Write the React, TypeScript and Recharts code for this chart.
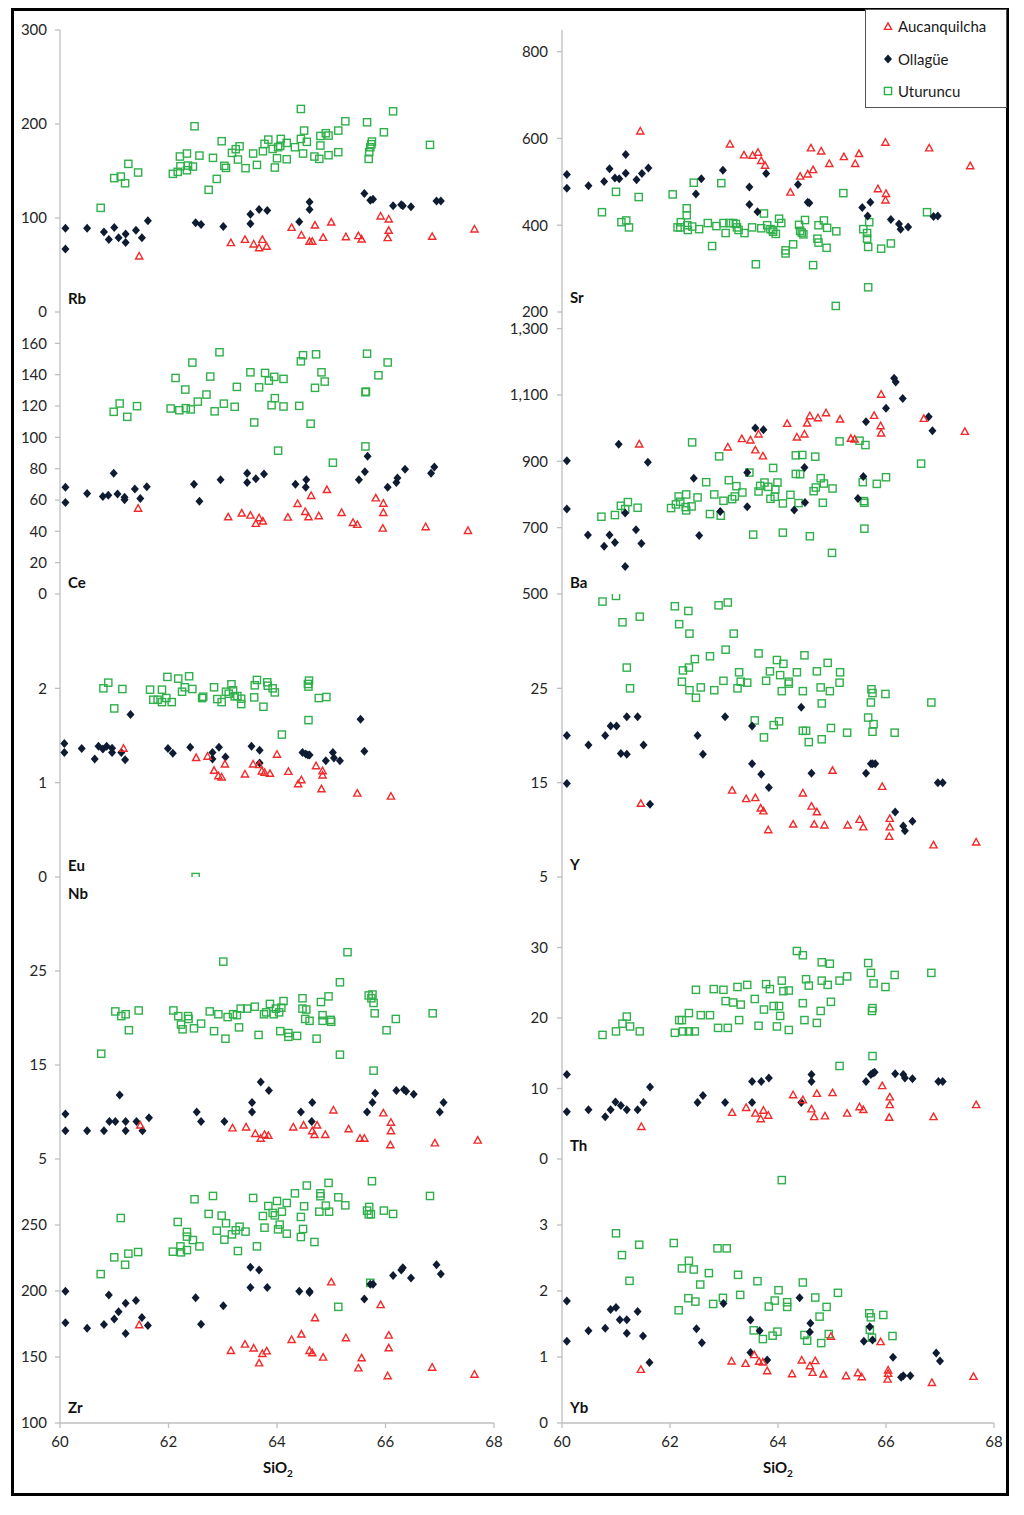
import React from 'react'
import { ScatterChart, Scatter, XAxis, YAxis } from 'recharts'

type P = [number, number]

const sio2Ticks = [60, 62, 64, 66, 68]

// Rb
const rbAuc: P[] = [[61.46,59.5],[63.15,73.7],[63.41,77.2],[63.57,72.2],[63.67,68.3],[63.73,77.2],[63.81,69.8],[64.27,89.9],[64.45,81.8],[64.6,75.1],[64.65,75.1],[64.7,92.4],[64.85,79.3],[65,95.6],[65.27,80],[65.5,81.1],[65.56,77.5],[65.91,102],[66.06,98.8],[66.06,86.8],[66.04,79],[66.86,80.4],[67.64,88.2]]
const rbOll: P[] = [[60.1,89],[60.1,67],[60.5,89],[60.81,85],[60.9,77],[61,90],[61.08,79],[61.21,83],[61.21,74],[61.4,87],[61.51,79],[61.62,97],[62.5,95],[62.6,93],[63.01,91],[63.51,104],[63.51,94],[63.67,109],[63.82,108],[64.41,96],[64.6,117],[64.6,109],[65.61,126],[65.72,119],[65.77,120],[66.14,113],[66.29,114],[66.32,113],[66.47,112],[66.94,118],[67.02,118]]
const rbUtu: P[] = [[60.75,110.8],[61,142.4],[61.12,144.1],[61.2,137],[61.26,157.6],[61.44,148.4],[62.08,147],[62.17,149.1],[62.22,155.1],[62.21,165.4],[62.34,168.6],[62.34,150.8],[62.36,155.8],[62.45,154.7],[62.48,197.6],[62.57,166.4],[62.74,130],[62.82,164],[62.89,141.6],[62.98,181.7],[63.03,155.5],[63.06,153.3],[63.17,169.3],[63.24,173.2],[63.28,162.2],[63.31,176.3],[63.42,153],[63.56,168.6],[63.63,156.5],[63.74,171],[63.77,178.8],[63.84,183.4],[63.92,173.5],[63.96,153.7],[64,163.6],[64.02,175.3],[64.07,184.1],[64.06,176.7],[64.18,179.9],[64.18,162.5],[64.33,175.3],[64.44,216],[64.44,184.1],[64.48,168.6],[64.5,193],[64.55,181],[64.69,165.4],[64.78,162.9],[64.8,187.3],[64.8,177.1],[64.9,190.2],[64.95,187.7],[64.95,166.8],[65.13,193],[65.13,170],[65.26,202.9],[65.66,201.8],[65.69,162.9],[65.7,170],[65.72,175.3],[65.74,178.5],[65.75,181.3],[65.97,191.2],[66.14,213.5],[66.82,177.8]]

// Sr
const srAuc: P[] = [[61.45,617],[63.11,587],[63.37,562],[63.53,561],[63.63,568],[63.69,549],[63.76,538],[64.23,476],[64.41,513],[64.55,518],[64.65,528],[64.61,578],[64.8,571],[64.95,542],[65.22,558],[65.43,542],[65.5,565],[65.85,484],[65.99,591],[66,473],[65.99,458],[66.8,578],[67.56,537]]
const srOll: P[] = [[60.09,517],[60.09,485],[60.49,491],[60.78,501],[60.88,530],[60.98,509],[61.06,507],[61.18,563],[61.18,520],[61.38,505],[61.48,519],[61.6,532],[62.48,472],[62.58,507],[62.98,527],[63.47,488],[63.47,448],[63.62,431],[63.78,519],[64.37,494],[64.55,453],[64.58,451],[65.56,441],[65.66,421],[65.71,453],[66.09,413],[66.24,403],[66.27,391],[66.41,396],[66.88,420],[66.96,421]]
const srUtu: P[] = [[60.74,430],[61,477],[61.1,407],[61.19,411],[61.24,395],[61.42,465],[62.05,471],[62.14,395],[62.19,395],[62.2,407],[62.31,439],[62.31,423],[62.32,400],[62.33,389],[62.41,397],[62.44,498],[62.54,391],[62.7,405],[62.78,352],[62.86,398],[62.95,497],[62.99,405],[63.03,382],[63.1,405],[63.17,405],[63.22,403],[63.24,395],[63.27,389],[63.38,382],[63.52,395],[63.59,310],[63.69,393],[63.74,427],[63.8,400],[63.86,391],[63.9,389],[63.91,385],[63.96,380],[64.02,415],[64.06,405],[64.14,342],[64.14,335],[64.28,356],[64.39,401],[64.41,387],[64.44,383],[64.47,379],[64.5,412],[64.65,308],[64.73,369],[64.75,360],[64.75,400],[64.85,411],[64.9,348],[64.91,394],[65.08,386],[65.07,214],[65.21,474],[65.58,391],[65.65,382],[65.65,369],[65.67,350],[65.67,257],[65.69,407],[65.91,346],[66.09,358],[66.76,430]]

// Ce
const ceAuc: P[] = [[61.44,54.7],[63.1,49.2],[63.35,51.6],[63.51,50.3],[63.61,45],[63.67,48.6],[63.74,46.5],[64.2,49],[64.38,57.7],[64.52,52.6],[64.58,49.2],[64.63,62.8],[64.77,49.9],[64.92,66.6],[65.19,52],[65.4,45.6],[65.48,44.4],[65.82,61.3],[65.96,57.9],[65.96,52],[65.95,42],[66.74,42.9],[67.52,40.5]]
const ceOll: P[] = [[60.1,68.1],[60.1,58.4],[60.5,64.1],[60.79,62.2],[60.89,63],[60.99,77],[61.06,63.9],[61.19,61.8],[61.19,60.1],[61.38,67.1],[61.48,60.9],[61.6,68.5],[62.47,70],[62.57,59.2],[62.96,73],[63.45,77],[63.45,71.1],[63.61,73.6],[63.76,76.6],[64.34,70],[64.54,73],[64.53,68.1],[65.51,73],[65.62,78.1],[65.67,87.9],[66.04,68.1],[66.2,71.1],[66.22,74.1],[66.36,79.6],[66.84,77],[66.9,81.1]]
const ceUtu: P[] = [[60.99,116.3],[61.1,121.6],[61.24,113.1],[61.42,119.9],[62.04,118.4],[62.13,137.9],[62.2,117.3],[62.31,130.5],[62.32,118.6],[62.41,117.8],[62.44,147.7],[62.54,122.8],[62.7,127.3],[62.77,138.8],[62.85,116.6],[62.94,154.3],[63.02,121.5],[63.22,119.5],[63.26,132.2],[63.51,141.5],[63.58,109.5],[63.67,131.9],[63.78,141.1],[63.85,136.2],[63.9,120.5],[63.95,138.6],[63.96,125],[64.02,91.5],[64.12,137.3],[64.12,119.7],[64.41,120.1],[64.44,148.5],[64.48,152.4],[64.62,108.7],[64.7,131.6],[64.72,153],[64.82,141.5],[64.88,135.6],[65.03,83.8],[65.63,128.8],[65.64,129.2],[65.63,94.2],[65.66,153.4],[65.87,139.6],[66.04,147.8]]

// Ba
const baAuc: P[] = [[61.43,952],[63.07,943],[63.33,968],[63.49,964],[63.58,934],[63.64,982],[63.72,916],[64.17,1014],[64.35,973],[64.49,982],[64.54,1015],[64.59,1037],[64.74,1031],[64.89,1046],[65.15,1027],[65.35,969],[65.42,967],[65.78,1038],[65.91,1102],[65.9,1007],[65.91,985],[66.7,1029],[67.46,990]]
const baOll: P[] = [[60.09,902],[60.09,756],[60.48,678],[60.78,644],[60.88,678],[60.98,655],[61.05,951],[61.17,744],[61.17,583],[61.37,694],[61.47,652],[61.59,897],[62.44,849],[62.54,676],[62.93,749],[63.43,866],[63.43,763],[63.58,1000],[63.73,995],[64.3,753],[64.49,881],[64.5,776],[65.48,788],[65.58,854],[65.63,1019],[66,1060],[66.15,1150],[66.18,1139],[66.31,1089],[66.79,1034],[66.86,992]]
const baUtu: P[] = [[60.73,733],[60.98,738],[61.09,766],[61.17,756],[61.22,777],[61.4,760],[62.02,759],[62.11,770],[62.16,794],[62.19,778],[62.3,800],[62.29,762],[62.3,752],[62.4,764],[62.41,957],[62.51,791],[62.67,837],[62.74,741],[62.82,800],[62.91,915],[62.94,736],[62.99,781],[63.09,843],[63.15,786],[63.2,794],[63.23,825],[63.34,806],[63.47,866],[63.54,679],[63.64,809],[63.67,826],[63.75,836],[63.82,823],[63.86,787],[63.91,880],[63.94,793],[63.95,815],[63.99,836],[64.09,773],[64.09,685],[64.23,799],[64.33,862],[64.33,918],[64.38,774],[64.41,861],[64.45,919],[64.59,674],[64.66,810],[64.69,914],[64.7,821],[64.79,849],[64.83,775],[64.85,833],[65,624],[65.01,818],[65.14,960],[65.51,962],[65.57,837],[65.62,949],[65.59,780],[65.6,775],[65.6,697],[65.83,832],[66,852],[66.65,893]]

// Eu
const euAuc: P[] = [[61.17,1.364],[62.51,1.265],[62.72,1.279],[62.84,1.13],[62.92,1.073],[62.98,1.059],[63.04,1.197],[63.41,1.091],[63.56,1.197],[63.67,1.19],[63.72,1.123],[63.77,1.108],[63.87,1.098],[64,1.3],[64.21,1.119],[64.39,0.988],[64.45,1.03],[64.72,1.179],[64.84,1.126],[64.84,1.08],[64.82,0.934],[65.48,0.888],[66.1,0.856]]
const euOll: P[] = [[60.08,1.414],[60.08,1.321],[60.4,1.361],[60.64,1.25],[60.71,1.385],[60.79,1.357],[60.86,1.385],[60.96,1.364],[60.96,1.321],[61.13,1.321],[61.2,1.243],[61.3,1.723],[61.99,1.361],[62.08,1.311],[62.4,1.375],[62.81,1.321],[62.81,1.25],[62.93,1.375],[63.05,1.272],[63.53,1.385],[63.68,1.343],[63.68,1.208],[64.47,1.321],[64.53,1.304],[64.57,1.293],[64.6,1.293],[64.9,1.233],[65.03,1.321],[65.05,1.261],[65.16,1.233],[65.54,1.673],[65.61,1.332]]
const euUtu: P[] = [[60.8,2],[60.89,2.06],[61,1.787],[61.15,1.993],[61.66,1.986],[61.72,1.879],[61.8,1.879],[61.88,1.986],[61.88,1.854],[61.96,1.897],[62.06,1.854],[61.98,2.121],[62.18,2.103],[62.25,1.964],[62.3,2.011],[62.38,2.128],[62.44,1.993],[62.62,1.897],[62.64,1.911],[62.84,2.011],[62.9,1.886],[62.98,1.854],[63.06,1.964],[63.11,1.943],[63.16,2.043],[63.19,1.979],[63.22,1.915],[63.27,1.918],[63.34,1.89],[63.34,1.833],[63.58,1.904],[63.59,2.032],[63.63,2.089],[63.75,1.805],[63.82,2.064],[63.83,2.028],[63.92,2],[63.96,1.957],[64.09,1.51],[64.57,2.046],[64.58,2.018],[64.59,2.082],[64.58,1.663],[64.77,1.897],[64.91,1.908],[62.5,0]]

// Y
const yAuc: P[] = [[61.46,12.8],[63.15,14.2],[63.41,13.3],[63.58,13.4],[63.68,12.3],[63.73,12],[63.82,10],[64.28,10.6],[64.46,13.9],[64.62,12.5],[64.72,11.9],[64.67,10.6],[64.86,10.5],[65.01,16.3],[65.29,10.5],[65.51,11.1],[65.58,10.3],[65.93,14.6],[66.07,11.2],[66.07,10.3],[66.06,9.3],[66.88,8.4],[67.67,8.7]]
const yOll: P[] = [[60.09,20],[60.09,14.9],[60.49,19],[60.8,20],[60.9,21],[61.01,21],[61.09,18.1],[61.2,18],[61.2,22],[61.4,22],[61.51,19],[61.63,12.7],[62.51,20],[62.61,18],[63.02,22],[63.52,21],[63.52,17],[63.69,15.9],[63.83,14.5],[64.43,23],[64.62,16],[65.63,16],[65.72,17],[65.75,17],[65.8,17],[66.17,11.9],[66.32,10.4],[66.35,9.9],[66.49,10.9],[66.96,15],[67.05,15]]
const yUtu: P[] = [[60.75,34.2],[61,34.8],[61.12,32],[61.44,32.6],[61.2,27.2],[61.26,25],[62.09,33.7],[62.17,31.8],[62.34,33.2],[62.36,30.8],[62.22,25.7],[62.24,26.9],[62.35,27.2],[62.46,28.1],[62.36,24.8],[62.48,24],[62.57,25.1],[62.74,28.4],[62.82,24.8],[62.9,33.8],[63.07,34.1],[62.99,25.8],[63.03,29.1],[63.18,30.8],[63.25,25],[63.28,26.7],[63.31,25.7],[63.43,25.6],[63.57,21.6],[63.64,28.7],[63.74,19.8],[63.78,25.8],[63.85,26.8],[63.92,21.1],[63.98,28],[64.02,21.5],[64.04,26.4],[64.07,24.7],[64.1,27.6],[64.2,25.7],[64.2,25.5],[64.35,26.7],[64.46,24.7],[64.46,20.5],[64.49,28.5],[64.52,20.5],[64.57,19.3],[64.72,26.8],[64.79,25.1],[64.81,23.4],[64.81,19.6],[64.92,27.7],[64.96,24.7],[64.98,20.8],[65.14,25.6],[65.15,26.7],[65.28,20.3],[65.67,21.9],[65.73,24.9],[65.75,24.5],[65.72,23.5],[65.77,21.2],[65.75,20.4],[65.99,24.4],[66.16,20.3],[66.84,23.5]]

// Nb
const nbAuc: P[] = [[61.48,8.6],[63.18,8.3],[63.43,8.4],[63.6,7.7],[63.7,7.2],[63.77,7.6],[63.84,7.5],[64.3,8.4],[64.49,8.6],[64.65,8],[64.69,7.6],[64.74,8.6],[64.89,7.6],[65.04,10.2],[65.32,8.2],[65.53,7.2],[65.61,7.2],[65.96,9.9],[66.1,8.9],[66.1,8],[66.09,6.5],[66.91,6.7],[67.7,7]]
const nbOll: P[] = [[60.1,9.8],[60.1,8],[60.5,8],[60.81,8],[60.91,9],[61.02,9],[61.1,11.8],[61.21,9],[61.21,8],[61.41,9],[61.52,8],[61.64,9.4],[62.52,10],[62.6,9],[63.03,9],[63.54,11],[63.54,10],[63.7,13.2],[63.85,12.3],[64.44,10],[64.65,11],[64.64,9],[65.66,10],[65.76,11],[65.81,12],[66.2,12.3],[66.34,12.4],[66.38,12.2],[66.52,11.9],[67,10],[67.07,11]]
const nbUtu: P[] = [[60.76,16.2],[61.02,20.7],[61.13,20.2],[61.21,20.4],[61.27,18.7],[61.45,20.8],[62.09,20.8],[62.18,20.2],[62.23,19.3],[62.26,18.8],[62.36,20.2],[62.37,19.9],[62.47,18.9],[62.6,19.4],[62.76,20.7],[62.84,18.6],[62.92,20.4],[63.01,26],[63.05,17.8],[63.09,20.1],[63.19,20.4],[63.26,20.3],[63.3,19],[63.33,21],[63.45,21],[63.59,21.2],[63.66,18.2],[63.76,20.4],[63.8,20.6],[63.87,21.5],[63.94,20.4],[63.98,21],[64.04,20.6],[64.08,21.1],[64.12,21.8],[64.06,18.6],[64.21,18.4],[64.21,18],[64.37,18.1],[64.47,22.1],[64.47,21],[64.54,20.9],[64.52,19.9],[64.6,19.7],[64.73,17.8],[64.81,21.7],[64.84,20.3],[64.84,19.7],[64.95,22.3],[64.99,19.8],[65,19.6],[65.16,23.8],[65.16,16.1],[65.3,27],[65.69,22.4],[65.76,22.5],[65.74,22.1],[65.78,21.6],[65.8,20.5],[65.78,14.4],[66.02,18.7],[66.19,19.9],[66.87,20.5]]

// Th
const thAuc: P[] = [[61.47,4.6],[63.15,6.6],[63.41,7.3],[63.58,6.5],[63.68,5.7],[63.73,6.9],[63.82,6.2],[64.28,9.1],[64.46,8.4],[64.62,7.1],[64.67,6],[64.72,9.3],[64.87,6.1],[65.01,9.4],[65.28,6.5],[65.51,7.4],[65.58,7],[65.93,10.4],[66.07,8.8],[66.07,7.7],[66.06,5.9],[66.88,6],[67.67,7.7]]
const thOll: P[] = [[60.09,12],[60.09,6.7],[60.49,7],[60.8,6],[60.9,7],[60.99,8.1],[61.09,7.6],[61.2,7],[61.4,7],[61.51,8],[61.63,10.2],[62.51,8],[62.61,9],[63.02,8],[63.52,11],[63.52,8],[63.69,11],[63.83,11.5],[64.43,8],[64.62,12],[64.62,11],[65.63,11],[65.72,12],[65.76,12.2],[65.79,12.3],[66.17,12.1],[66.32,12],[66.35,11.5],[66.49,11.4],[66.97,11],[67.05,11]]
const thUtu: P[] = [[60.75,17.6],[61,18.1],[61.12,19.2],[61.2,20.2],[61.26,18.8],[61.44,18.1],[62.09,17.9],[62.17,19.7],[62.22,19.7],[62.24,18.1],[62.35,20.7],[62.35,18.1],[62.46,18.1],[62.48,24],[62.57,20.4],[62.74,20.4],[62.81,24.1],[62.89,18.6],[62.99,24],[63.03,22.4],[63.07,18.6],[63.17,22.2],[63.25,24.4],[63.28,19.7],[63.31,21.9],[63.43,24.7],[63.57,22.7],[63.64,18.9],[63.74,21.2],[63.78,24.8],[63.85,24.1],[63.92,21.7],[63.98,18.8],[64.02,21.7],[64.04,20.3],[64.07,25.3],[64.1,23.8],[64.2,23.9],[64.2,18.3],[64.35,29.5],[64.46,28.9],[64.46,22.1],[64.49,19.7],[64.52,25.5],[64.57,24.6],[64.72,19.3],[64.79,21],[64.81,27.9],[64.81,25.3],[64.92,24.7],[64.96,27.7],[64.98,22.3],[65.14,25.3],[65.28,25.9],[65.14,13.2],[65.67,27.8],[65.72,26.4],[65.77,24.9],[65.75,21.4],[65.74,21],[65.75,14.6],[65.99,24.4],[66.16,26.1],[66.84,26.4]]

// Zr
const zrAuc: P[] = [[61.46,174.4],[63.15,154.9],[63.41,159.7],[63.57,156.7],[63.67,145.5],[63.73,152.6],[63.81,154.6],[64.27,163.2],[64.45,167.3],[64.6,154.9],[64.65,153.1],[64.7,179.7],[64.85,149.8],[65,206.8],[65.27,164.5],[65.5,141.7],[65.56,149.3],[65.91,189.6],[66.06,166.5],[66.06,156.9],[66.04,135.7],[66.86,142.2],[67.64,136.9]]
const zrOll: P[] = [[60.1,199.9],[60.1,175.9],[60.5,171.8],[60.81,174.6],[60.9,196.9],[61,178.7],[61.08,184.2],[61.21,190.8],[61.21,167.8],[61.4,192.8],[61.51,179.9],[61.62,173.9],[62.5,194.9],[62.6,174.9],[63.01,188.8],[63.51,217.9],[63.51,202.7],[63.67,215.9],[63.82,202.7],[64.41,199.9],[64.6,199.9],[64.6,198.9],[65.61,193.9],[65.72,205.2],[65.77,205.2],[66.14,211.8],[66.29,215.9],[66.32,217.6],[66.47,209.8],[66.94,219.9],[67.02,212.8]]
const zrUtu: P[] = [[60.75,212.8],[61,225.5],[61.12,255.3],[61.2,219.9],[61.26,228.3],[61.44,229.5],[62.08,229.8],[62.17,252.3],[62.22,233.8],[62.23,229.3],[62.34,244.7],[62.34,241.2],[62.34,231],[62.45,238.6],[62.48,269.5],[62.57,233.8],[62.74,258.4],[62.82,272],[62.89,245.7],[62.98,257.1],[63.03,238.9],[63.06,251.3],[63.17,242.9],[63.24,246],[63.28,230.3],[63.31,248.7],[63.42,245],[63.56,270.5],[63.63,233.8],[63.74,256.8],[63.77,248],[63.84,264.4],[63.92,259.1],[63.96,257.3],[64,268.2],[64.02,246.7],[64.05,250.3],[64.09,260.1],[64.18,266.7],[64.18,243.4],[64.33,274],[64.44,256.1],[64.44,240.9],[64.48,247],[64.5,264.2],[64.55,279.9],[64.69,237.1],[64.78,260.1],[64.8,274],[64.8,271.8],[64.9,264.7],[64.95,281.9],[64.96,260.1],[65.13,188],[65.13,271],[65.26,264.9],[65.66,260.9],[65.69,258.1],[65.7,263.7],[65.73,258.1],[65.75,283.2],[65.72,206.2],[65.97,260.9],[66.14,258.4],[66.82,272]]

// Yb
const ybAuc: P[] = [[61.46,0.811],[63.14,0.938],[63.4,0.902],[63.56,1.034],[63.65,0.933],[63.72,0.922],[63.8,0.791],[64.26,0.745],[64.44,0.953],[64.59,0.867],[64.64,0.765],[64.69,0.943],[64.84,0.74],[64.98,1.313],[65.26,0.715],[65.48,0.76],[65.55,0.699],[65.9,1.232],[66.04,0.801],[66.04,0.75],[66.03,0.664],[66.85,0.613],[67.62,0.705]]
const ybOll: P[] = [[60.09,1.85],[60.09,1.237],[60.49,1.399],[60.8,1.434],[60.9,1.718],[61,1.749],[61.07,1.566],[61.2,1.566],[61.2,1.358],[61.4,1.688],[61.5,1.318],[61.62,0.917],[62.49,1.429],[62.59,1.216],[62.99,1.809],[63.49,1.561],[63.49,1.069],[63.66,1.399],[63.8,0.953],[64.4,1.896],[64.6,1.51],[64.59,1.379],[65.59,1.237],[65.7,1.46],[65.75,1.257],[66.13,0.998],[66.28,0.694],[66.32,0.715],[66.45,0.715],[66.93,1.059],[67,0.938]]
const ybUtu: P[] = [[61,2.874],[61.11,2.544],[61.25,2.154],[61.43,2.701],[62.07,2.727],[62.16,1.708],[62.22,2.342],[62.35,2.458],[62.34,1.891],[62.44,2.326],[62.47,1.84],[62.56,2.098],[62.72,2.271],[62.8,1.804],[62.88,2.646],[62.98,1.896],[63.05,2.646],[63.26,2.245],[63.3,1.941],[63.55,1.404],[63.62,2.149],[63.72,1.272],[63.83,1.764],[63.9,1.323],[63.94,1.855],[63.99,1.384],[64.01,2.012],[64.07,3.68],[64.17,1.83],[64.17,1.759],[64.46,2.129],[64.49,1.333],[64.54,1.247],[64.69,1.901],[64.77,1.612],[64.8,1.211],[64.9,1.759],[64.94,1.348],[65.11,1.972],[65.69,1.662],[65.72,1.602],[65.7,1.414],[65.74,1.292],[65.95,1.637],[66.12,1.318]]

const RED = '#f22a2a'
const DARK = '#0e1b30'
const GREEN = '#2fb04a'
const AXIS = '#bfbfbf'
const FONT = 'Lato, "Open Sans", sans-serif'
const TICK = { fill: '#262626', fontSize: 15, fontFamily: FONT }

const pts = (a: P[]) => a.map(([x, y]) => ({ x, y }))

const Tri = (p: any) => (
  <path
    d={`M${p.cx},${p.cy - 3.6}L${p.cx + 3.6},${p.cy + 2.9}L${p.cx - 3.6},${p.cy + 2.9}Z`}
    fill="none"
    stroke={RED}
    strokeWidth={1.4}
  />
)
const Dia = (p: any) => (
  <path
    d={`M${p.cx},${p.cy - 4.5}L${p.cx + 4},${p.cy}L${p.cx},${p.cy + 4.5}L${p.cx - 4},${p.cy}Z`}
    fill={DARK}
  />
)
const Sq = (p: any) => (
  <rect x={p.cx - 3.6} y={p.cy - 3.6} width={7.2} height={7.2} fill="none" stroke={GREEN} strokeWidth={1.4} />
)

const fmt = (v: number) => v.toLocaleString('en-US')

interface PanelProps {
  right?: boolean
  top: number
  h: number
  domain: [number, number]
  ticks: number[]
  auc: P[]
  oll: P[]
  utu: P[]
  bottom?: boolean
}

function Panel({ right, top, h, domain, ticks, auc, oll, utu, bottom }: PanelProps) {
  const xH = bottom ? 34 : 0
  const mb = bottom ? 0 : 12
  return (
    <div style={{ position: 'absolute', left: right ? 500 : 0, top: top - 12 }}>
      <ScatterChart
        width={510}
        height={h + 12 + xH + mb}
        margin={{ top: 12, right: 16, bottom: mb, left: 0 }}
      >
        <XAxis
          type="number"
          dataKey="x"
          domain={[60, 68]}
          ticks={sio2Ticks}
          interval={0}
          allowDataOverflow
          height={xH}
          stroke={AXIS}
          strokeWidth={1.3}
          tick={bottom ? TICK : false}
          tickLine={bottom}
          tickSize={5}
          tickMargin={8}
        />
        <YAxis
          type="number"
          dataKey="y"
          domain={domain}
          ticks={ticks}
          interval={0}
          allowDataOverflow
          width={right ? 62 : 60}
          stroke={AXIS}
          strokeWidth={1.3}
          tick={TICK}
          tickSize={5}
          tickMargin={right ? 9 : 8}
          tickFormatter={fmt}
        />
        <Scatter data={pts(utu)} shape={Sq} isAnimationActive={false} />
        <Scatter data={pts(oll)} shape={Dia} isAnimationActive={false} />
        <Scatter data={pts(auc)} shape={Tri} isAnimationActive={false} />
      </ScatterChart>
    </div>
  )
}

const labelStyle: React.CSSProperties = {
  position: 'absolute',
  fontFamily: FONT,
  fontWeight: 700,
  fontSize: 15,
  color: '#111',
  lineHeight: '16px',
}

function Tag({ x, y, t }: { x: number; y: number; t: string }) {
  return <div style={{ ...labelStyle, left: x, top: y - 8 }}>{t}</div>
}

function SiLabel({ x }: { x: number }) {
  return (
    <div style={{ ...labelStyle, left: x - 20, width: 40, textAlign: 'center', top: 1459 }}>
      SiO<sub style={{ fontSize: 10 }}>2</sub>
    </div>
  )
}

const legendItems = [
  { name: 'Aucanquilcha', shape: 'tri' },
  { name: 'Ollagüe', shape: 'dia' },
  { name: 'Uturuncu', shape: 'sq' },
]

function Legend() {
  return (
    <div
      style={{
        position: 'absolute',
        left: 865,
        top: 9,
        width: 142,
        height: 99,
        boxSizing: 'border-box',
        border: '1.5px solid #555',
        background: '#fff',
      }}
    >
      {legendItems.map((it, i) => (
        <div
          key={it.name}
          style={{
            position: 'absolute',
            left: 16,
            top: 7 + i * 32.5,
            display: 'flex',
            alignItems: 'center',
            fontFamily: FONT,
            fontSize: 15,
            color: '#1a1a1a',
          }}
        >
          <svg width={12} height={12} style={{ marginRight: 4 }}>
            {it.shape === 'tri' && <Tri cx={6} cy={6.5} />}
            {it.shape === 'dia' && <Dia cx={6} cy={6} />}
            {it.shape === 'sq' && <Sq cx={6} cy={6} />}
          </svg>
          {it.name}
        </div>
      ))}
    </div>
  )
}

export default function App() {
  return (
    <div style={{ position: 'absolute', left: 0, top: 0, width: 1024, height: 1515, background: '#fff' }}>
      <Panel top={30} h={282} domain={[0, 300]} ticks={[0, 100, 200, 300]} auc={rbAuc} oll={rbOll} utu={rbUtu} />
      <Panel right top={30} h={282} domain={[200, 850]} ticks={[200, 400, 600, 800]} auc={srAuc} oll={srOll} utu={srUtu} />
      <Panel top={312} h={282} domain={[0, 180]} ticks={[0, 20, 40, 60, 80, 100, 120, 140, 160]} auc={ceAuc} oll={ceOll} utu={ceUtu} />
      <Panel right top={312} h={282} domain={[500, 1350]} ticks={[500, 700, 900, 1100, 1300]} auc={baAuc} oll={baOll} utu={baUtu} />
      <Panel top={594} h={283} domain={[0, 3]} ticks={[0, 1, 2]} auc={euAuc} oll={euOll} utu={euUtu} />
      <Panel right top={594} h={283} domain={[5, 35]} ticks={[5, 15, 25]} auc={yAuc} oll={yOll} utu={yUtu} />
      <Panel top={877} h={282} domain={[5, 35]} ticks={[5, 15, 25]} auc={nbAuc} oll={nbOll} utu={nbUtu} />
      <Panel right top={877} h={282} domain={[0, 40]} ticks={[0, 10, 20, 30]} auc={thAuc} oll={thOll} utu={thUtu} />
      <Panel bottom top={1159} h={264} domain={[100, 300]} ticks={[100, 150, 200, 250]} auc={zrAuc} oll={zrOll} utu={zrUtu} />
      <Panel bottom right top={1159} h={264} domain={[0, 4]} ticks={[0, 1, 2, 3]} auc={ybAuc} oll={ybOll} utu={ybUtu} />

      <Tag x={68} y={298} t="Rb" />
      <Tag x={570} y={297} t="Sr" />
      <Tag x={68} y={582} t="Ce" />
      <Tag x={570} y={582} t="Ba" />
      <Tag x={68} y={865} t="Eu" />
      <Tag x={570} y={864} t="Y" />
      <Tag x={68} y={893} t="Nb" />
      <Tag x={570} y={1145} t="Th" />
      <Tag x={68} y={1407} t="Zr" />
      <Tag x={570} y={1407} t="Yb" />
      <SiLabel x={278} />
      <SiLabel x={778} />

      <div
        style={{
          position: 'absolute',
          left: 11,
          top: 8,
          width: 998,
          height: 1488,
          boxSizing: 'border-box',
          border: '3px solid #000',
          pointerEvents: 'none',
        }}
      />
      <Legend />
    </div>
  )
}
